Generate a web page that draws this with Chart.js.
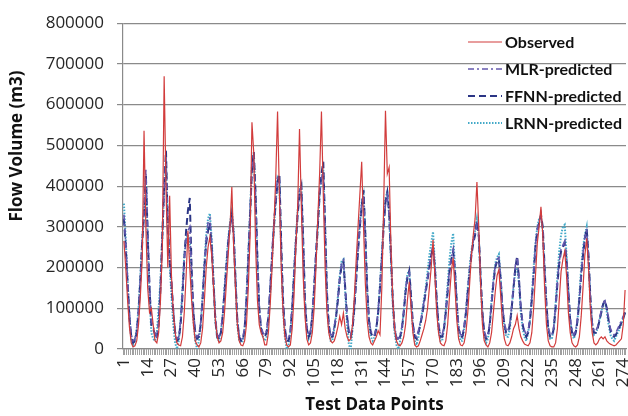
<!DOCTYPE html>
<html>
<head>
<meta charset="utf-8">
<script src="https://cdn.jsdelivr.net/npm/chart.js@4.4.1/dist/chart.umd.min.js"></script>
<style>
  html, body { margin: 0; padding: 0; background: #fff; }
  #wrap { width: 628px; height: 416px; }
</style>
</head>
<body>
<div id="wrap"><canvas id="flow" width="628" height="416"></canvas></div>
<script>
// values, in thousands of m3
const observed = [
  265,200,120,55,15,5,8,20,60,130,220,536,
  300,150,90,100,60,20,15,40,120,250,670,
  400,200,376,180,90,40,15,10,8,30,90,180,290,
  200,120,60,20,10,5,15,50,120,200,250,275,
  230,150,70,30,15,20,40,90,160,230,300,398,
  250,150,60,20,10,8,20,60,150,280,557,
  480,250,120,60,40,30,10,10,40,110,200,300,420,583,
  380,200,90,30,10,5,10,50,130,250,350,540,
  350,180,80,25,10,15,40,100,200,320,430,583,
  380,200,90,40,20,15,20,35,55,80,60,88,50,
  30,20,25,60,130,220,300,380,460,
  300,160,70,30,15,10,20,30,45,35,150,350,585,
  430,446,250,120,50,20,10,8,15,30,60,120,165,
  100,40,10,5,8,20,35,50,70,100,150,200,268,
  180,90,40,15,10,8,20,60,130,190,224,
  150,70,25,10,8,15,40,90,160,230,280,320,410,
  300,160,60,20,10,5,15,40,90,140,180,195,
  130,60,25,10,8,15,30,50,60,82,
  50,30,20,12,10,8,15,40,100,180,260,300,349,
  280,150,60,20,8,5,5,15,50,120,190,220,240,
  180,90,40,15,8,5,10,30,80,150,230,272,
  200,100,40,15,10,15,25,30,25,30,
  20,15,12,10,8,10,15,20,25,60,145
];
const mlrPredicted = [
  330,260,170,90,35,20,25,45,95,175,265,340,
  440,290,160,70,55,40,30,65,155,270,390,
  470,310,230,170,100,45,25,30,70,140,220,270,290,
  300,190,95,45,30,35,65,125,205,270,310,320,
  260,165,80,35,30,45,85,145,205,265,305,325,
  290,175,75,35,25,25,55,125,225,340,450,
  470,370,210,100,55,40,35,45,85,155,240,310,370,420,
  420,250,115,55,25,25,45,105,190,270,340,390,
  395,260,115,55,35,45,85,160,240,310,385,420,
  434,290,135,60,35,35,55,85,125,175,210,218,145,
  85,45,35,55,105,175,245,305,355,
  375,270,145,70,45,35,35,55,95,155,225,305,355,
  375,330,220,115,55,30,25,35,55,95,145,180,188,
  125,60,35,30,45,65,85,115,145,175,205,235,255,
  205,125,65,35,35,55,95,145,195,225,245,
  195,115,55,35,35,55,95,145,195,235,265,285,305,
  275,175,90,45,30,35,65,115,165,205,220,225,
  175,105,65,45,45,65,105,155,205,225,
  175,105,65,45,35,45,75,125,185,255,295,315,325,
  295,195,110,55,35,35,55,105,165,215,245,255,265,
  225,145,75,45,35,45,75,125,185,235,275,290,
  225,130,65,45,45,55,75,95,112,118,
  100,75,50,40,35,40,50,60,70,80,95
];
const ffnnPredicted = [
  320,250,160,80,30,15,20,40,90,170,260,330,
  430,280,150,60,50,35,25,60,150,280,400,
  487,300,220,160,90,40,20,25,60,130,220,290,340,
  371,200,90,40,25,30,60,120,200,260,290,310,
  250,160,70,30,25,40,80,140,200,260,300,330,
  280,170,70,30,20,20,50,120,220,330,440,
  485,380,220,100,50,35,30,40,80,150,230,300,360,410,
  430,260,120,50,20,20,40,100,180,260,330,380,
  400,270,120,50,30,40,80,150,230,300,380,430,
  460,300,140,60,30,30,50,80,120,170,205,215,150,
  80,40,30,50,100,170,240,300,350,
  390,280,150,70,40,30,30,50,90,150,220,300,360,
  385,340,230,120,50,25,20,30,50,90,140,175,192,
  130,60,30,25,40,60,80,110,140,170,200,230,250,
  200,120,60,30,30,50,90,140,190,220,240,
  190,110,50,30,30,50,90,140,190,230,260,280,314,
  280,180,90,40,25,30,60,110,160,200,215,220,
  170,100,60,40,40,60,100,150,200,228,
  170,100,60,40,30,40,70,120,180,250,290,310,330,
  300,200,110,50,30,30,50,100,160,210,240,250,260,
  220,140,70,40,30,40,70,120,180,230,270,296,
  230,130,60,40,40,50,70,90,110,120,
  100,70,45,35,30,35,45,55,65,75,90
];
const lrnnPredicted = [
  357,270,170,80,25,10,20,50,100,180,270,340,
  420,270,130,40,25,20,40,100,170,280,390,
  450,320,210,130,60,15,0,20,70,150,230,270,280,
  260,160,70,20,0,20,60,130,210,280,320,333,
  270,170,70,25,20,40,80,150,210,270,310,340,
  290,170,60,20,15,20,50,130,230,340,450,
  480,360,210,90,45,30,20,30,70,140,220,300,360,420,
  410,240,100,30,0,10,40,100,190,270,340,390,
  400,260,110,45,25,35,80,150,230,300,380,420,
  440,300,130,50,20,20,50,80,130,180,215,220,140,
  60,10,0,50,110,180,250,310,360,
  380,280,140,60,30,20,30,50,90,160,230,310,370,
  385,330,220,110,40,10,0,20,50,90,150,185,190,
  120,50,20,10,30,60,90,120,150,190,230,260,288,
  210,120,50,20,20,50,100,160,220,260,284,
  200,110,40,20,20,50,90,150,200,240,270,290,320,
  280,170,80,30,15,25,60,120,170,210,225,233,
  170,90,50,30,30,50,100,150,190,200,
  160,90,50,30,20,40,70,130,200,260,300,320,325,
  290,190,100,45,25,25,50,110,180,240,280,300,305,
  230,140,70,35,25,40,70,130,200,250,280,300,
  220,120,60,35,40,50,70,90,110,115,
  90,60,35,25,20,30,40,50,60,75,90
];
// test data point numbers and the ones that carry a label
const pointNumbers = observed.map((v, i) => String(i + 1));
const labelledPoints = ['1','14','27','40','53','66','79','92','105','118','131','144','157','170','183','196','209','222','235','248','261','274'];

const toM3 = arr => arr.map(v => v * 1000);
const FONT = '"Open Sans", "DejaVu Sans", sans-serif';
const LEGEND_FONT = 'Lato, "Open Sans", sans-serif';
const GRID = '#8a8a8a';

const insideLegend = {
  id: 'insideLegend',
  afterDraw(chart) {
    const ctx = chart.ctx;
    const x = 468, y0 = 42, step = 27;
    chart.data.datasets.forEach((ds, k) => {
      const y = y0 + k * step;
      ctx.save();
      ctx.strokeStyle = ds.borderColor;
      ctx.lineWidth = ds.borderWidth;
      ctx.setLineDash(ds.borderDash || []);
      ctx.beginPath();
      ctx.moveTo(x, y);
      ctx.lineTo(x + 34, y);
      ctx.stroke();
      ctx.setLineDash([]);
      ctx.fillStyle = '#111';
      ctx.font = 'bold 16px ' + LEGEND_FONT;
      ctx.textBaseline = 'middle';
      ctx.fillText(ds.label, x + 37, y + 1, 120);
      ctx.restore();
    });
    // y axis title
    ctx.save();
    ctx.translate(17, 146);
    ctx.rotate(-Math.PI / 2);
    ctx.fillStyle = '#111';
    ctx.font = 'bold 17px ' + FONT;
    ctx.textAlign = 'center';
    ctx.textBaseline = 'middle';
    ctx.fillText('Flow Volume (m3)', 0, 0);
    ctx.restore();
  }
};

new Chart(document.getElementById('flow'), {
  type: 'line',
  data: {
    labels: pointNumbers,
    datasets: [
      { label: 'Observed', data: toM3(observed), borderColor: '#d23c3c', borderWidth: 1.2 },
      { label: 'MLR-predicted', data: toM3(mlrPredicted), borderColor: '#6458ad', borderWidth: 1.6, borderDash: [6, 3, 2, 3] },
      { label: 'FFNN-predicted', data: toM3(ffnnPredicted), borderColor: '#2b3585', borderWidth: 2, borderDash: [7, 4] },
      { label: 'LRNN-predicted', data: toM3(lrnnPredicted), borderColor: '#43a9c8', borderWidth: 2, borderDash: [1.5, 1.5] }
    ]
  },
  options: {
    responsive: false,
    animation: false,
    events: [],
    elements: { point: { radius: 0 }, line: { tension: 0, fill: false } },
    layout: { padding: { top: 19, right: 2, bottom: 0, left: 0 } },
    plugins: { legend: { display: false }, tooltip: { enabled: false } },
    scales: {
      x: {
        offset: true,
        grid: { display: true, drawOnChartArea: false, drawTicks: true, tickLength: 6, color: '#a0a0a0', offset: true },
        border: { color: GRID, width: 1.2 },
        ticks: {
          autoSkip: false, minRotation: 90, maxRotation: 90, padding: 3,
          color: '#262626', font: { family: FONT, size: 17 },
          callback: function (value) {
            const lab = this.getLabelForValue(value);
            return labelledPoints.includes(lab) ? lab : '';
          }
        },
        title: { display: true, text: 'Test Data Points', color: '#111', font: { family: FONT, size: 17, weight: 'bold' }, padding: { top: 0, bottom: 1 } },
        afterFit: s => { s.height = 67; s.paddingLeft = 0; s.paddingRight = 0; }
      },
      y: {
        min: 0, max: 800000,
        grid: { color: GRID, lineWidth: 1.2, tickLength: 6 },
        border: { color: GRID, width: 1.2 },
        ticks: { stepSize: 100000, padding: 13, color: '#262626', font: { family: FONT, size: 17 }, callback: v => String(v) },
        afterFit: s => { s.width = 123; }
      }
    }
  },
  plugins: [insideLegend]
});
</script>
</body>
</html>
